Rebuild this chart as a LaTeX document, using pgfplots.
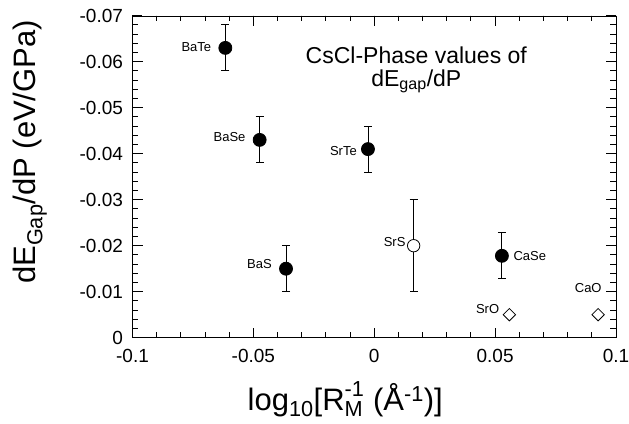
\documentclass[border=0pt]{standalone}
\usepackage{fontspec}
\setmainfont{Liberation Sans}
\usepackage{amsmath}
\usepackage{pgfplots}
\pgfplotsset{compat=1.18}
\begin{document}
\begin{tikzpicture}
\begin{axis}[
  scale only axis, width=483.5pt, height=322pt,
  xmin=-0.1, xmax=0.1, ymin=-0.07, ymax=0, y dir=reverse,
  xtick={-0.1,-0.05,0,0.05,0.1},
  ytick={-0.07,-0.06,-0.05,-0.04,-0.03,-0.02,-0.01,0},
  minor x tick num=4, minor y tick num=4,
  tick align=inside,
  major tick length=10pt, minor tick length=5.5pt,
  tick style={black, line width=1pt},
  scaled ticks=false,
  xticklabel={\pgfmathprintnumber[assume math mode=true,fixed,precision=3]{\tick}},
  yticklabel={\pgfmathprintnumber[assume math mode=true,fixed,precision=3]{\tick}},
  tick label style={font=\fontsize{19}{21}\selectfont},
  yticklabel style={xshift=-6pt},
  xticklabel style={yshift=-8pt},
  label style={font=\fontsize{31}{34}\selectfont},
  xlabel={log\textsubscript{10}[$\text{R}_{\text{M}}^{\text{-1}}$ (Å\textsuperscript{-1})]},
  ylabel={dE\textsubscript{Gap}/dP (eV/GPa)},
  xlabel style={at={(axis description cs:0.44,-0.192)}, anchor=center},
  ylabel style={at={(axis description cs:-0.212,0.577)}, anchor=center},
]
\coordinate (bl) at (axis cs:-0.1,0);
\coordinate (tr) at (axis cs:0.1,-0.07);
% tick lines along the frame (both ends in axis coordinates)
\pgfplotsinvokeforeach{-0.05,0,0.05}{
  \draw[line width=1pt] (axis cs:#1,0) -- (axis cs:#1,-0.00217);
  \draw[line width=1pt] (axis cs:#1,-0.07) -- (axis cs:#1,-0.06783);
}
\pgfplotsinvokeforeach{-0.09,-0.08,-0.07,-0.06,-0.04,-0.03,-0.02,-0.01,0.01,0.02,0.03,0.04,0.06,0.07,0.08,0.09}{
  \draw[line width=1pt] (axis cs:#1,0) -- (axis cs:#1,-0.0012);
  \draw[line width=1pt] (axis cs:#1,-0.07) -- (axis cs:#1,-0.0688);
}
\pgfplotsinvokeforeach{-0.06,-0.05,-0.04,-0.03,-0.02,-0.01}{
  \draw[line width=1pt] (axis cs:-0.1,#1) -- (axis cs:-0.09586,#1);
  \draw[line width=1pt] (axis cs:0.1,#1) -- (axis cs:0.09586,#1);
}
\pgfplotsinvokeforeach{-0.068,-0.066,-0.064,-0.062,-0.058,-0.056,-0.054,-0.052,-0.048,-0.046,-0.044,-0.042,-0.038,-0.036,-0.034,-0.032,-0.028,-0.026,-0.024,-0.022,-0.018,-0.016,-0.014,-0.012,-0.008,-0.006,-0.004,-0.002}{
  \draw[line width=1pt] (axis cs:-0.1,#1) -- (axis cs:-0.09772,#1);
  \draw[line width=1pt] (axis cs:0.1,#1) -- (axis cs:0.09772,#1);
}
% filled circles with error bars
\addplot[only marks, mark=*, mark size=6.5pt,
  mark options={fill=black, draw=black, line width=0.8pt},
  error bars/.cd, y dir=both, y explicit,
  error bar style={line width=0.9pt, black},
  error mark options={rotate=90, line width=0.9pt, mark size=4pt, black}]
coordinates {
  (-0.0616,-0.063) +- (0,0.005)
  (-0.0474,-0.043) +- (0,0.005)
  (-0.0026,-0.041) +- (0,0.005)
  (0.0528,-0.0178) +- (0,0.005)
  (-0.0365,-0.015) +- (0,0.005)
};
% open circle
\addplot[only marks, mark=*, mark size=6.2pt,
  mark options={fill=white, draw=black, line width=0.8pt},
  error bars/.cd, y dir=both, y explicit,
  error bar style={line width=0.9pt, black},
  error mark options={rotate=90, line width=0.9pt, mark size=4pt, black}]
coordinates {
  (0.0163,-0.020) +- (0,0.010)
};
% diamonds
\addplot[only marks, mark=square, mark size=4.4pt,
  mark options={rotate=45, fill=white, draw=black, line width=0.8pt}]
coordinates {
  (0.0559,-0.005)
  (0.0926,-0.005)
};
\begin{scope}[every node/.style={font=\fontsize{13}{15}\selectfont, inner sep=0pt}]
\node[anchor=east, xshift=-14pt, yshift=1pt] at (axis cs:-0.0616,-0.063) {BaTe};
\node[anchor=east, xshift=-14pt, yshift=3pt] at (axis cs:-0.0474,-0.043) {BaSe};
\node[anchor=east, xshift=-11pt, yshift=-1.5pt] at (axis cs:-0.0026,-0.041) {SrTe};
\node[anchor=east, xshift=-8pt, yshift=4pt] at (axis cs:0.0163,-0.020) {SrS};
\node[anchor=west, xshift=11.5pt] at (axis cs:0.0528,-0.0178) {CaSe};
\node[anchor=east, xshift=-14pt, yshift=4.7pt] at (axis cs:-0.0365,-0.015) {BaS};
\node[anchor=east, xshift=-10pt, yshift=6pt] at (axis cs:0.0559,-0.005) {SrO};
\node[anchor=east, xshift=3.7pt, yshift=26.7pt] at (axis cs:0.0926,-0.005) {CaO};
\end{scope}
\node[anchor=base, font=\fontsize{23}{25}\selectfont] at (axis cs:0.0174,-0.0597) {CsCl-Phase values of};
\node[anchor=base, font=\fontsize{23}{25}\selectfont] at (axis cs:0.0174,-0.0547) {dE\textsubscript{gap}/dP};
\end{axis}
\pgfresetboundingbox
\path ([xshift=-132.5pt,yshift=-86.3pt]bl) rectangle ([xshift=13pt,yshift=15.7pt]tr);
\end{tikzpicture}
\end{document}
